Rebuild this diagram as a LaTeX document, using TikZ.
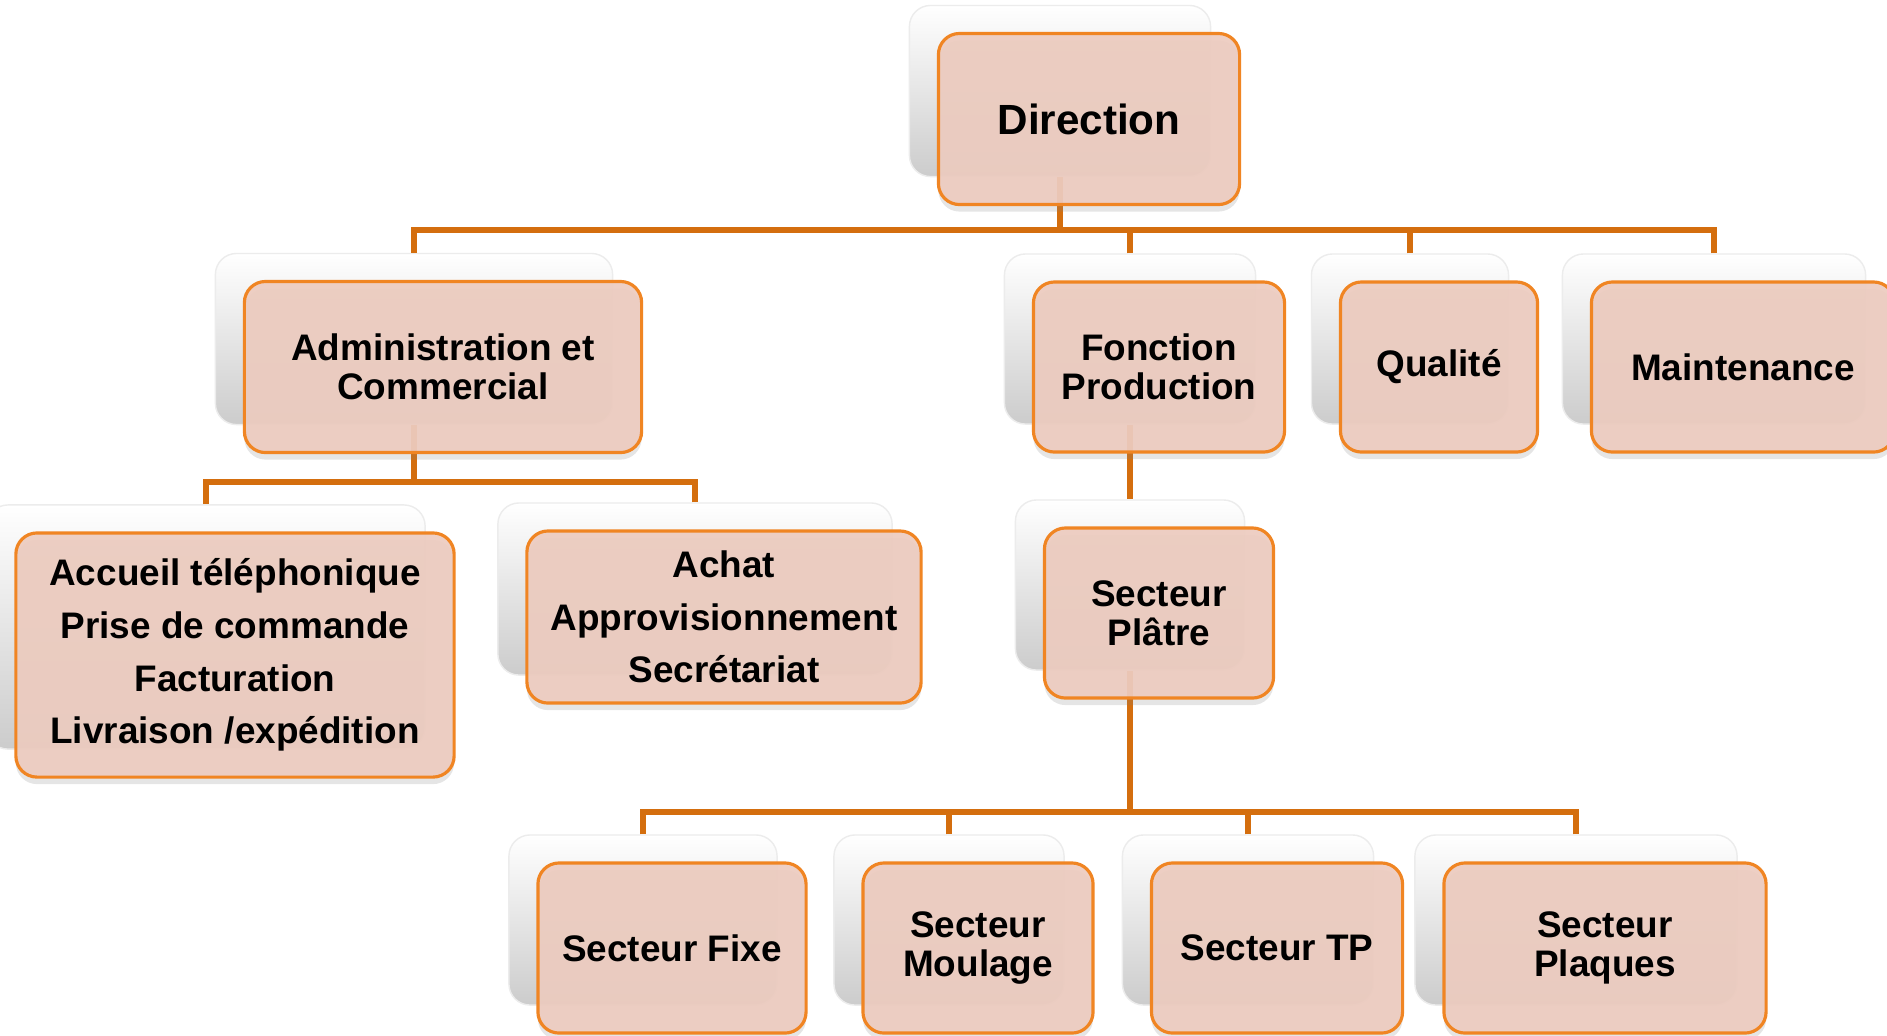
\documentclass[tikz,border=0pt]{standalone}
\usepackage{fontspec}
\setmainfont{Liberation Sans}
\usetikzlibrary{shadows}

\definecolor{boxfill}{RGB}{237,204,192}
\definecolor{boxline}{RGB}{240,133,35}
\definecolor{linkcol}{RGB}{212,110,14}

\begin{document}
\begin{tikzpicture}[x=0.01cm, y=-0.01cm,
	backbox/.style={rounded corners=6pt, inner sep=0pt, draw=gray!15, line width=0.4pt, top color=white, bottom color=gray!40},
	frontbox/.style={rounded corners=6pt, inner sep=0pt, draw=boxline, line width=0.9pt, fill=boxfill, fill opacity=0.93, text opacity=1, align=center, font=\bfseries\fontsize{10.5}{11}\selectfont, drop shadow={shadow xshift=0pt, shadow yshift=-2pt, opacity=0.2}},
	boxsize/.style 2 args={minimum width=#1cm, minimum height=#2cm},
	link/.style={draw=linkcol, line width=1.5pt}]

	\path[use as bounding box, fill=white] (0,0) rectangle (1887,1035);

	% Shadow boxes
	\node[backbox, boxsize={3.01}{1.71}] (sh-direction) at (1060,91) {};
	\node[backbox, boxsize={3.97}{1.71}] (sh-admin) at (414,339) {};
	\node[backbox, boxsize={2.51}{1.70}] (sh-prod) at (1130,339) {};
	\node[backbox, boxsize={1.97}{1.70}] (sh-qual) at (1410,339) {};
	\node[backbox, boxsize={3.03}{1.70}] (sh-maint) at (1714,339) {};
	\node[backbox, boxsize={4.38}{2.44}] (sh-accueil) at (206,627) {};
	\node[backbox, boxsize={3.94}{1.72}] (sh-achat) at (695,589) {};
	\node[backbox, boxsize={2.29}{1.70}] (sh-platre) at (1130,585) {};
	\node[backbox, boxsize={2.68}{1.70}] (sh-fixe) at (643,920) {};
	\node[backbox, boxsize={2.30}{1.70}] (sh-moulage) at (949,920) {};
	\node[backbox, boxsize={2.51}{1.70}] (sh-tp) at (1248,920) {};
	\node[backbox, boxsize={3.22}{1.70}] (sh-plaques) at (1576,920) {};

	% Links
	\coordinate (bus1) at (1060,230);
	\coordinate (bus2) at (414,482);
	\coordinate (bus3) at (1130,812);

	\draw[link] (sh-direction.south) -- (bus1);
	\draw[link] (sh-admin.north) |- (bus1);
	\draw[link] (sh-prod.north) |- (bus1);
	\draw[link] (sh-qual.north) |- (bus1);
	\draw[link] (sh-maint.north) |- (bus1);

	\draw[link] (sh-admin.south) -- (bus2);
	\draw[link] (sh-accueil.north) |- (bus2);
	\draw[link] (sh-achat.north) |- (bus2);

	\draw[link] (sh-prod.south) -- (sh-platre.north);

	\draw[link] (sh-platre.south) -- (bus3);
	\draw[link] (sh-fixe.north) |- (bus3);
	\draw[link] (sh-moulage.north) |- (bus3);
	\draw[link] (sh-tp.north) |- (bus3);
	\draw[link] (sh-plaques.north) |- (bus3);

	% Boxes
	\node[frontbox, boxsize={3.01}{1.71}, font=\bfseries\fontsize{12}{13}\selectfont] (direction) at ([shift={(29,28)}]sh-direction) {Direction};
	\node[frontbox, boxsize={3.97}{1.71}] (admin) at ([shift={(29,28)}]sh-admin) {Administration et\\Commercial};
	\node[frontbox, boxsize={2.51}{1.70}] (prod) at ([shift={(29,28)}]sh-prod) {Fonction\\Production};
	\node[frontbox, boxsize={1.97}{1.70}] (qual) at ([shift={(29,28)}]sh-qual) {Qualité};
	\node[frontbox, boxsize={3.03}{1.70}] (maint) at ([shift={(29,28)}]sh-maint) {Maintenance};
	\node[frontbox, boxsize={4.38}{2.44}, font=\bfseries\fontsize{10.5}{15}\selectfont] (accueil) at ([shift={(29,28)}]sh-accueil) {Accueil téléphonique\\Prise de commande\\Facturation\\Livraison /expédition};
	\node[frontbox, boxsize={3.94}{1.72}, font=\bfseries\fontsize{10.5}{15}\selectfont] (achat) at ([shift={(29,28)}]sh-achat) {Achat\\Approvisionnement\\Secrétariat};
	\node[frontbox, boxsize={2.29}{1.70}] (platre) at ([shift={(29,28)}]sh-platre) {Secteur\\Plâtre};
	\node[frontbox, boxsize={2.68}{1.70}] (fixe) at ([shift={(29,28)}]sh-fixe) {Secteur Fixe};
	\node[frontbox, boxsize={2.30}{1.70}] (moulage) at ([shift={(29,28)}]sh-moulage) {Secteur\\Moulage};
	\node[frontbox, boxsize={2.51}{1.70}] (tp) at ([shift={(29,28)}]sh-tp) {Secteur TP};
	\node[frontbox, boxsize={3.22}{1.70}] (plaques) at ([shift={(29,28)}]sh-plaques) {Secteur\\Plaques};

\end{tikzpicture}
\end{document}
